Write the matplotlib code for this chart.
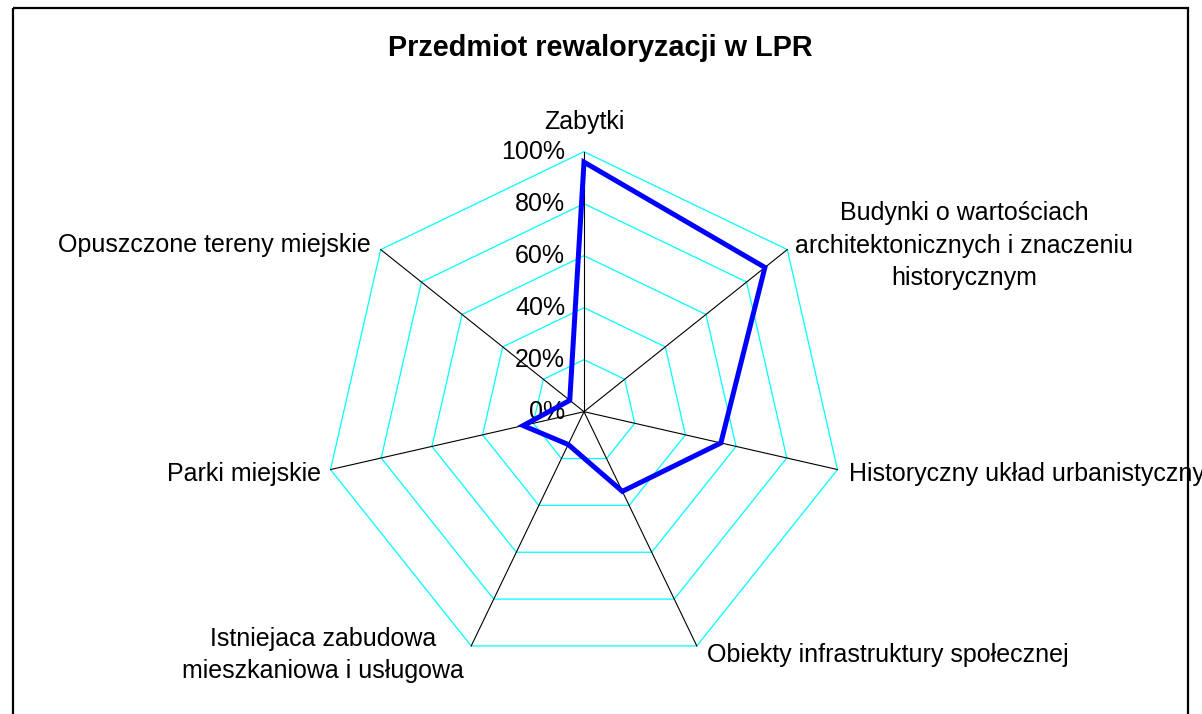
#!/usr/bin/env python3
"""Radar chart: Przedmiot rewaloryzacji w LPR (share of programmes, %)."""

import numpy as np
import matplotlib

matplotlib.use("Agg")
import matplotlib.pyplot as plt
from matplotlib.patches import Polygon, Rectangle

categories = [
    "Zabytki",
    "Budynki o wartościach\narchitektonicznych i znaczeniu\nhistorycznym",
    "Historyczny układ urbanistyczny",
    "Obiekty infrastruktury społecznej",
    "Istniejaca zabudowa\nmieszkaniowa i usługowa",
    "Parki miejskie",
    "Opuszczone tereny miejskie",
]
values = [96, 89, 54, 34, 14, 24, 7]
tick_values = [0, 20, 40, 60, 80, 100]
tick_labels = ["0%", "20%", "40%", "60%", "80%", "100%"]

# label placement per category: (offset in px from 100% vertex, ha, va)
label_style = [
    ((0, -30), "center", "center"),
    ((177, -4), "center", "center"),
    ((12, 4), "left", "center"),
    ((10, 9), "left", "center"),
    ((-148, 9), "center", "center"),
    ((-10, 4), "right", "center"),
    ((-10, -5), "right", "center"),
]


def main() -> None:
    plt.rcParams["font.family"] = ["Liberation Sans", "DejaVu Sans"]

    W, H = 1202, 714
    fig = plt.figure(figsize=(W / 100, H / 100), dpi=100)
    ax = fig.add_axes([0, 0, 1, 1])
    ax.set_xlim(0, W)
    ax.set_ylim(H, 0)
    ax.axis("off")

    cx, cy, R = 584, 411.7, 260
    n = len(categories)
    theta = np.arange(n) * 2 * np.pi / n
    ux, uy = np.sin(theta), -np.cos(theta)

    def pt(frac):
        frac = np.asarray(frac, dtype=float)
        return np.column_stack([cx + frac * R * ux, cy + frac * R * uy])

    # outer frame of the chart area
    ax.add_patch(Rectangle((13, 8), 1175, 720, fill=False, edgecolor="black",
                           linewidth=1.6, clip_on=False))

    # cyan rings
    for t in tick_values[1:]:
        ax.add_patch(Polygon(pt(np.full(n, t / 100)), closed=True, fill=False,
                             edgecolor="#00FFFF", linewidth=0.9))
    # black spokes
    outer = pt(np.ones(n))
    for x, y in outer:
        ax.plot([cx, x], [cy, y], color="black", linewidth=0.8)

    # data
    data = pt(np.array(values) / 100)
    ax.add_patch(Polygon(data, closed=True, fill=False, edgecolor="#0000FF",
                         linewidth=3.6, joinstyle="miter", zorder=5))

    # radial tick labels along the first axis
    for t, lab in zip(tick_values, tick_labels):
        ax.text(cx - 19, cy - t / 100 * R, lab, ha="right", va="center",
                fontsize=18, zorder=4)

    # category labels (the right-hand one runs past the edge, as in the source)
    for (x, y), lab, ((dx, dy), ha, va) in zip(outer, categories, label_style):
        ax.text(x + dx, y + dy, lab, ha=ha, va=va, fontsize=18,
                linespacing=1.45, multialignment="center")

    ax.text(600, 48, "Przedmiot rewaloryzacji w LPR", ha="center", va="center",
            fontsize=20.8, fontweight="bold")

    fig.savefig("out.png", dpi=100)


if __name__ == "__main__":
    main()
